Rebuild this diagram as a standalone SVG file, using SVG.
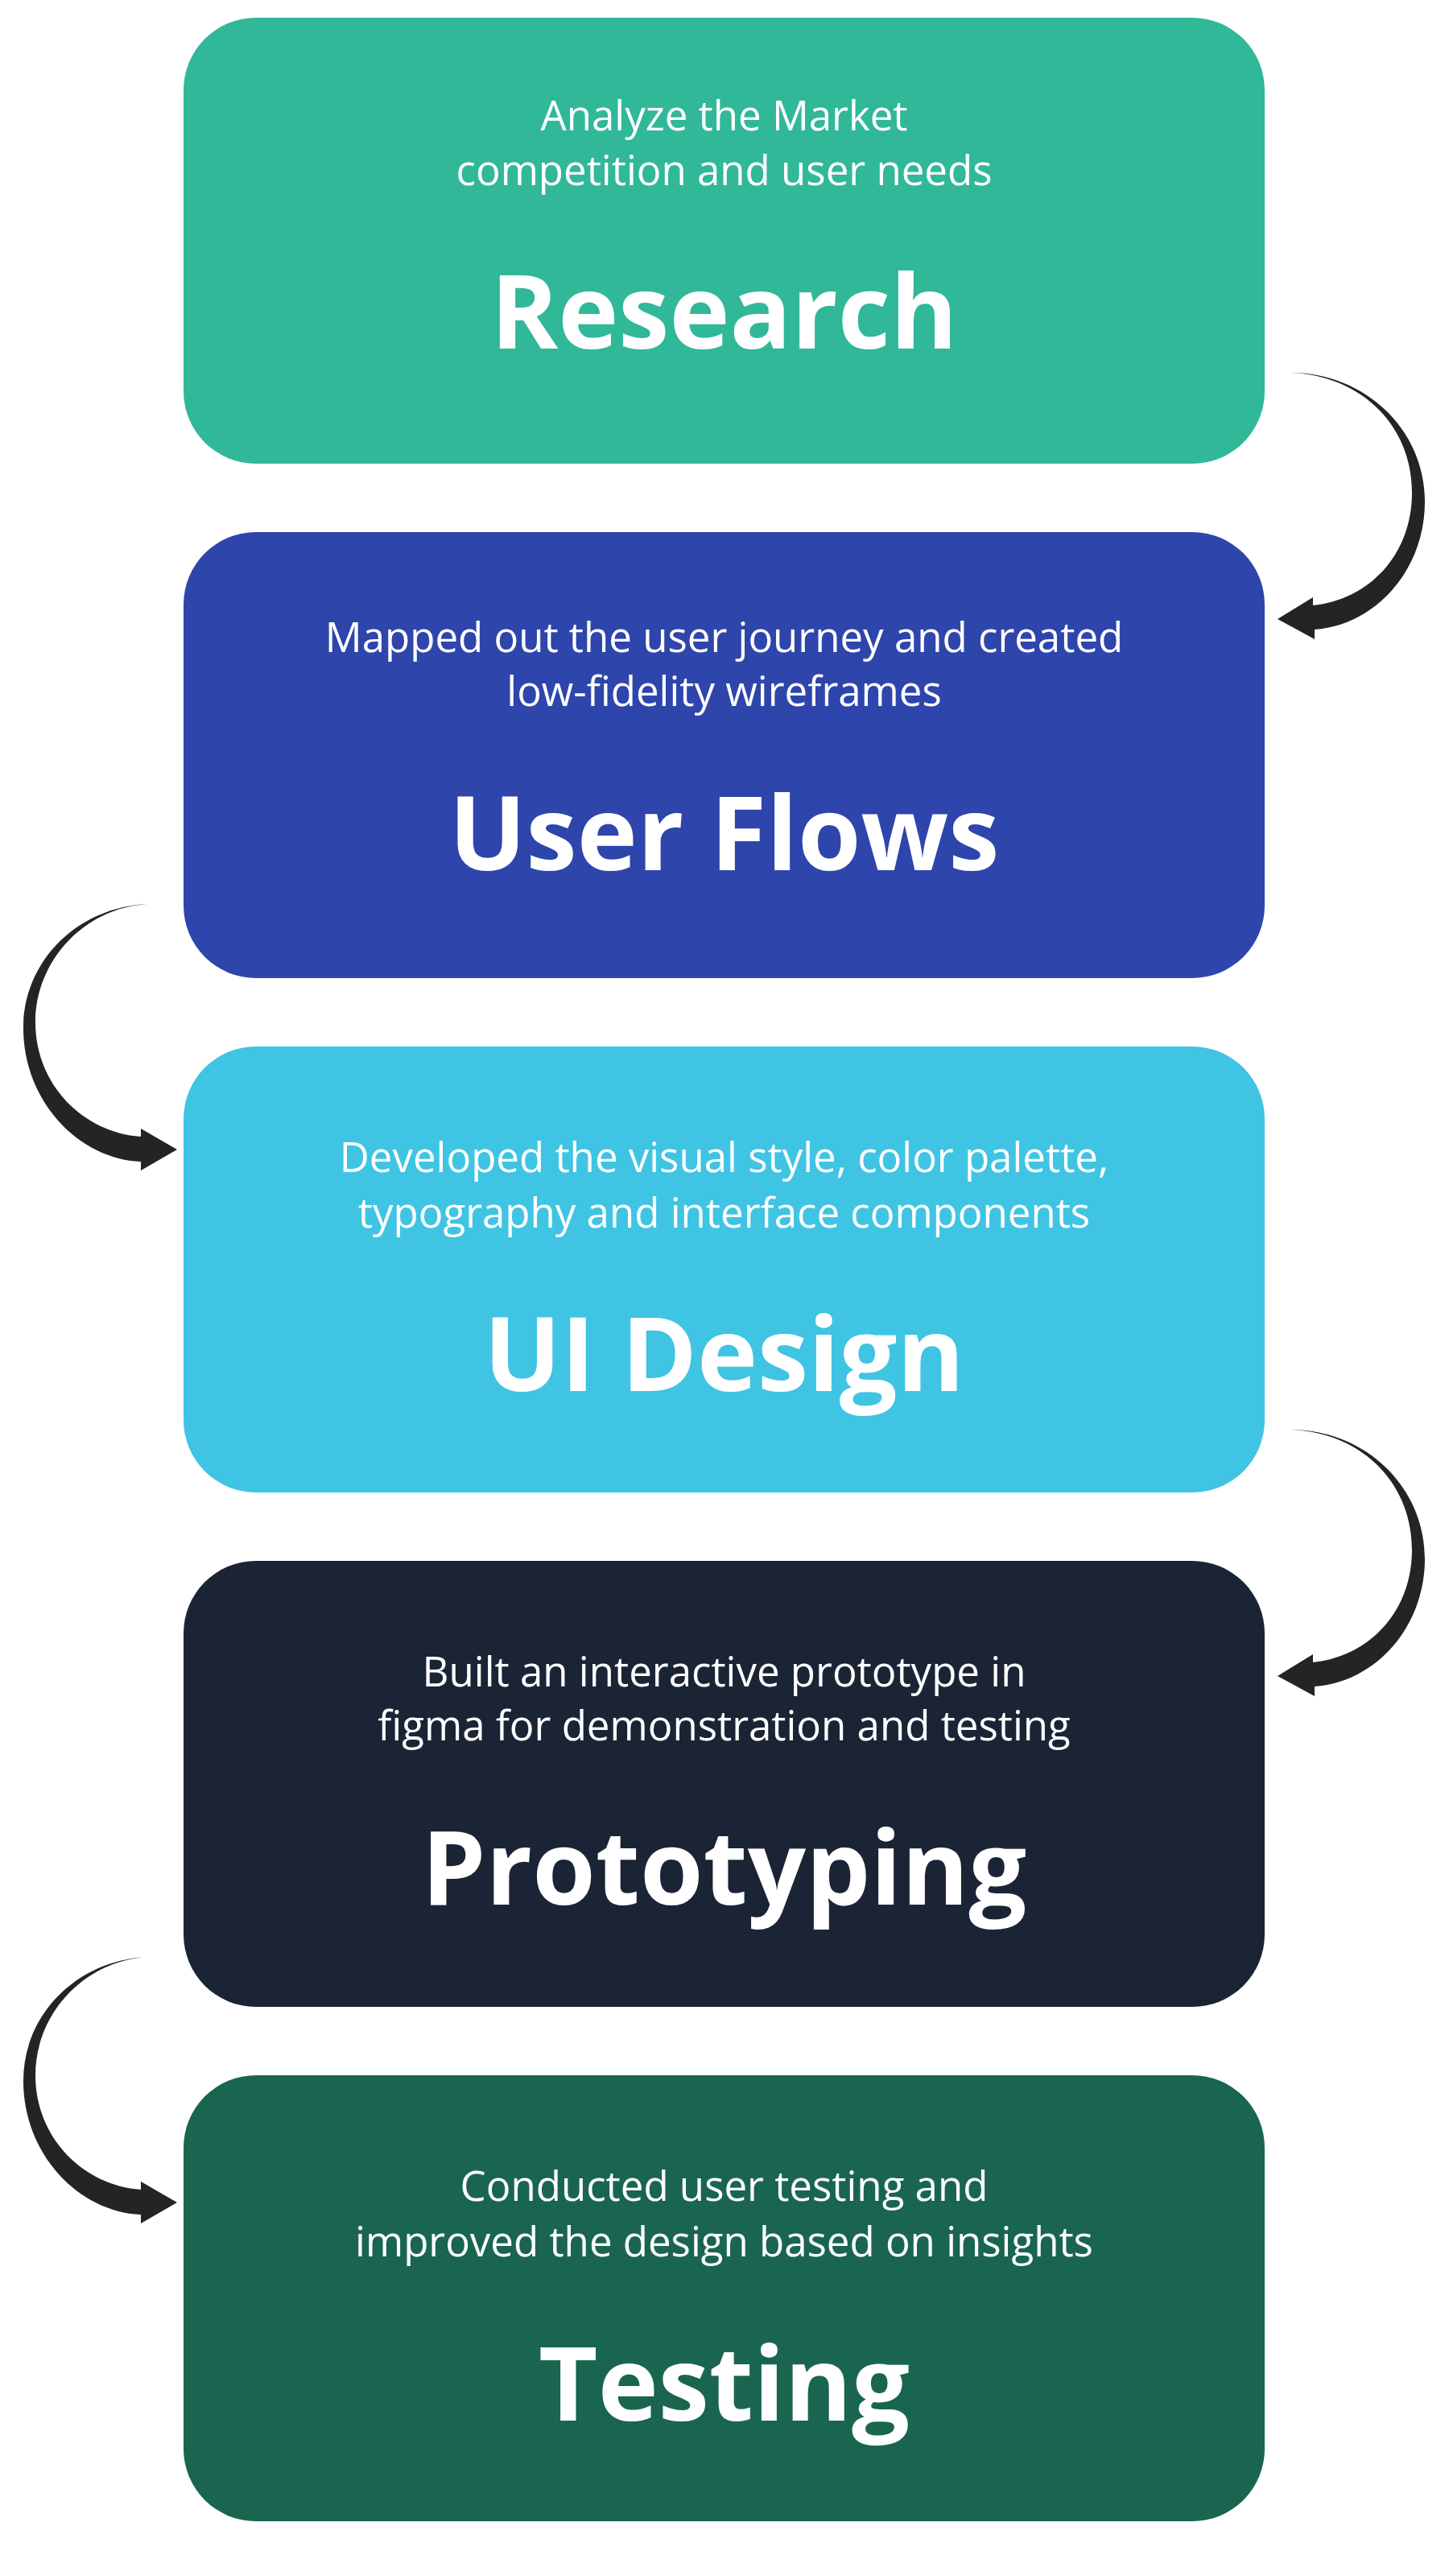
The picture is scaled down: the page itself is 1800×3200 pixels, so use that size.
<svg xmlns="http://www.w3.org/2000/svg" width="1800" height="3200" viewBox="0 0 1800 3200">
<style>
.box{stroke:none}
.desc{font-family:"Open Sans","Liberation Sans",sans-serif;font-size:51px;fill:#ffffff;text-anchor:middle}
.title{font-family:"Open Sans","Liberation Sans",sans-serif;font-size:127px;font-weight:700;fill:#ffffff;text-anchor:middle}
.arrow{fill:#242424;stroke:none}
</style>
<rect width="1800" height="3200" fill="#ffffff"/>
<g id="node-research">
<rect class="box" x="228" y="22" width="1343" height="554" rx="90" ry="90" fill="#30B899"/>
<text class="desc" x="899.5" y="162">Analyze the Market</text>
<text class="desc" x="899.5" y="230">competition and user needs</text>
<text class="title" x="899.5" y="433">Research</text>
</g>
<g id="node-userflows">
<rect class="box" x="228" y="661" width="1343" height="554" rx="90" ry="90" fill="#2E45AC"/>
<text class="desc" x="899.5" y="810">Mapped out the user journey and created</text>
<text class="desc" x="899.5" y="877">low-fidelity wireframes</text>
<text class="title" x="899.5" y="1081">User Flows</text>
</g>
<g id="node-uidesign">
<rect class="box" x="228" y="1300" width="1343" height="554" rx="90" ry="90" fill="#40C4E3"/>
<text class="desc" x="899.5" y="1456">Developed the visual style, color palette,</text>
<text class="desc" x="899.5" y="1525">typography and interface components</text>
<text class="title" x="899.5" y="1728">UI Design</text>
</g>
<g id="node-prototyping">
<rect class="box" x="228" y="1939" width="1343" height="554" rx="90" ry="90" fill="#1A2435"/>
<text class="desc" x="899.5" y="2095">Built an interactive prototype in</text>
<text class="desc" x="899.5" y="2162">figma for demonstration and testing</text>
<text class="title" x="899.5" y="2366">Prototyping</text>
</g>
<g id="node-testing">
<rect class="box" x="228" y="2578" width="1343" height="554" rx="90" ry="90" fill="#1A6550"/>
<text class="desc" x="899.5" y="2734">Conducted user testing and</text>
<text class="desc" x="899.5" y="2803">improved the design based on insights</text>
<text class="title" x="899.5" y="3007">Testing</text>
</g>
<g id="connectors">
<path id="arrow-right" class="arrow" d="M 1603 463 C 1697 463 1770 535 1770 623 C 1770 710 1707 777 1633 782 L 1633 794 L 1587 769 L 1631 742 L 1631 752 C 1700 745 1754 690 1754 612 C 1754 528 1690 466 1603 463 Z"/>
<path class="arrow" transform="translate(0 1313)" d="M 1603 463 C 1697 463 1770 535 1770 623 C 1770 710 1707 777 1633 782 L 1633 794 L 1587 769 L 1631 742 L 1631 752 C 1700 745 1754 690 1754 612 C 1754 528 1690 466 1603 463 Z"/>
<path id="arrow-left" class="arrow" d="M 183 1123 C 95 1127 29 1195 29 1277 C 29 1368 98 1440 175 1443 L 175 1454 L 220 1428 L 175 1402 L 175 1412 C 104 1407 44 1348 44 1270 C 44 1194 104 1128 183 1123 Z"/>
<path class="arrow" transform="translate(0 1308)" d="M 183 1123 C 95 1127 29 1195 29 1277 C 29 1368 98 1440 175 1443 L 175 1454 L 220 1428 L 175 1402 L 175 1412 C 104 1407 44 1348 44 1270 C 44 1194 104 1128 183 1123 Z"/>
</g>
</svg>
